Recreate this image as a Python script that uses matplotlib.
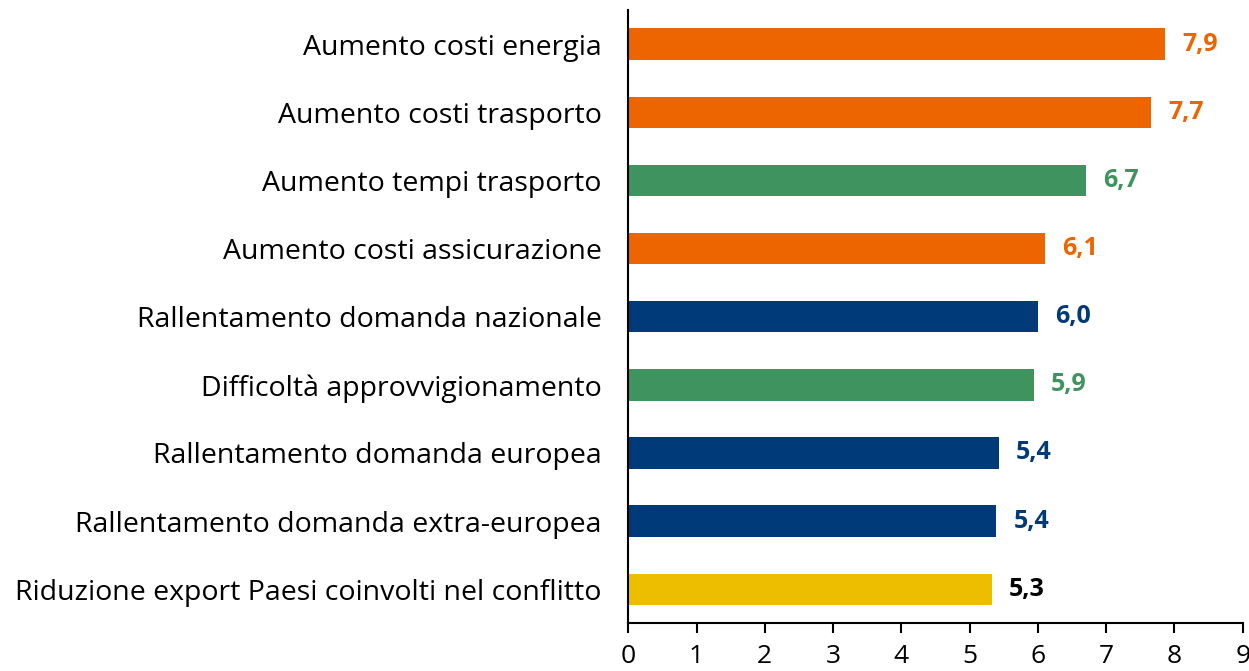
import matplotlib
matplotlib.use('Agg')
import matplotlib.pyplot as plt

# dati (dal grafico di riferimento)
categories = [
    'Aumento costi energia',
    'Aumento costi trasporto',
    'Aumento tempi trasporto',
    'Aumento costi assicurazione',
    'Rallentamento domanda nazionale',
    'Difficoltà approvvigionamento',
    'Rallentamento domanda europea',
    'Rallentamento domanda extra-europea',
    'Riduzione export Paesi coinvolti nel conflitto',
]
values = [7.86, 7.66, 6.71, 6.10, 6.00, 5.94, 5.43, 5.39, 5.33]
labels = ['7,9', '7,7', '6,7', '6,1', '6,0', '5,9', '5,4', '5,4', '5,3']
groups = ['costi', 'costi', 'offerta', 'costi', 'domanda', 'offerta', 'domanda', 'domanda', 'export']
ticks = list(range(0, 10))

bar_colors = {'costi': '#EC6500', 'offerta': '#3F935E', 'domanda': '#003A78', 'export': '#EDBE00'}
text_colors = {'costi': '#EC6500', 'offerta': '#3F935E', 'domanda': '#003A78', 'export': '#000000'}

plt.rcParams['font.family'] = ['Open Sans', 'DejaVu Sans']

fig = plt.figure(figsize=(12.49, 6.71), dpi=100)
ax = fig.add_axes([0.503, 0.071, 0.492, 0.914])

ypos = list(range(len(categories)))
ax.barh(ypos, values, height=0.46, color=[bar_colors[g] for g in groups])

for y, v, lab, g in zip(ypos, values, labels, groups):
    ax.text(v + 0.25, y, lab, va='center', ha='left', fontsize=18,
            fontweight='bold', color=text_colors[g])

ax.set_yticks(ypos)
ax.set_yticklabels(categories, fontsize=20.5)
ax.set_ylim(len(categories) - 0.5, -0.5)
ax.set_xlim(0, 9)
ax.set_xticks(ticks)
ax.set_xticklabels([str(t) for t in ticks], fontsize=19)

ax.tick_params(axis='y', length=0, pad=19)
ax.tick_params(axis='x', direction='out', length=7, width=1.5, pad=8)
for s in ['top', 'right']:
    ax.spines[s].set_visible(False)
ax.spines['left'].set_linewidth(1.5)
ax.spines['bottom'].set_linewidth(1.5)

fig.savefig('out.png', dpi=100)
